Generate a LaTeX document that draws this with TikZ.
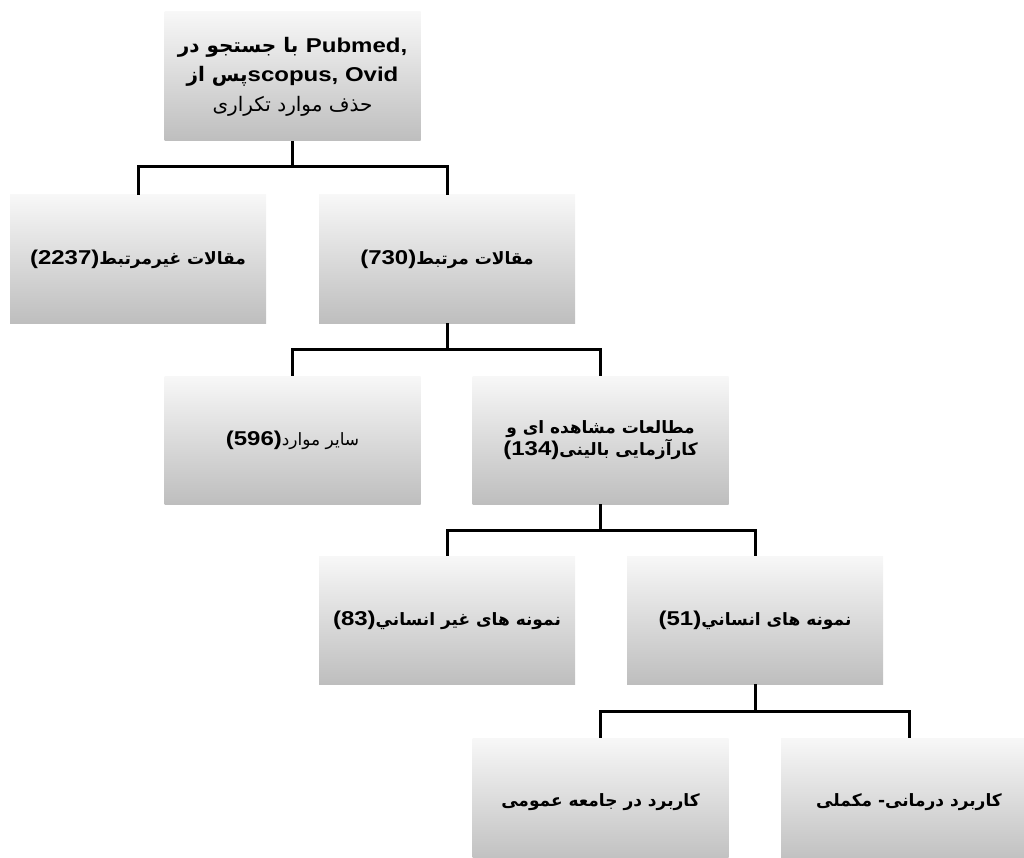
\documentclass[tikz,border=0pt]{standalone}
\usepackage{fontspec}
\newfontfamily\arabicfont[Script=Arabic]{DejaVu Sans}
\newfontfamily\latinfont[FakeStretch=1.2]{Liberation Sans}
\TeXXeTstate=1
\newcommand{\fatext}[1]{{\arabicfont\beginR #1\endR}}
\newcommand{\latext}[1]{{\latinfont\fontsize{20pt}{22pt}\selectfont #1}}
\begin{document}
\begin{tikzpicture}[x=1pt,y=-1pt,
  box/.style={minimum width=256pt,minimum height=128pt,inner sep=0pt,align=center,
    top color=gray!6,middle color=gray!26,bottom color=gray!51,
    font=\bfseries\fontsize{17pt}{22pt}\selectfont},
  link/.style={line width=3pt,black}]
\useasboundingbox (0,0) rectangle (1024,858);

% Search
\node[box,minimum height=129pt,font=\bfseries\fontsize{20pt}{29.5pt}\selectfont] (search) at (292.5,76.5)
  {\fatext{با جستجو در} {\fontsize{22pt}{29.5pt}\selectfont\latext{Pubmed,}}\\
   \fatext{پس از}{\fontsize{22pt}{29.5pt}\selectfont\latext{scopus, Ovid}}\\
   {\mdseries\fatext{حذف موارد تکراری}}};

% Level 1
\node[box] (irr) at (138,259) {\latext{(2237)}\fatext{مقالات غیرمرتبط}};
\node[box] (rel) at (447,259) {\latext{(730)}\fatext{مقالات مرتبط}};

% Level 2
\node[box] (other) at (292.5,440) {\latext{(596)}{\mdseries\fatext{سایر موارد}}};
\node[box] (obs) at (600.5,440) {\fatext{مطالعات مشاهده ای و}\\ \latext{(134)}\fatext{کارآزمایی بالینی}};

% Level 3
\node[box] (nonhum) at (447,620) {\latext{(83)}\fatext{نمونه های غیر انساني}};
\node[box] (hum) at (755,620) {\latext{(51)}\fatext{نمونه های انساني}};

% Level 4
\node[box] (pub) at (600.5,802) {\fatext{کاربرد در جامعه عمومی}};
\node[box] (cam) at (909,802) {\fatext{کاربرد درمانی- مکملی}};

% Links
\draw[link] (search.south) -- (search.south |- 0,167) coordinate (b1) -| (irr.north);
\draw[link] (b1) -| (rel.north);
\draw[link] (rel.south) -- (rel.south |- 0,349) coordinate (b2) -| (other.north);
\draw[link] (b2) -| (obs.north);
\draw[link] (obs.south) -- (obs.south |- 0,530) coordinate (b3) -| (nonhum.north);
\draw[link] (b3) -| (hum.north);
\draw[link] (hum.south) -- (hum.south |- 0,711) coordinate (b4) -| (pub.north);
\draw[link] (b4) -| (cam.north);

\end{tikzpicture}
\end{document}
